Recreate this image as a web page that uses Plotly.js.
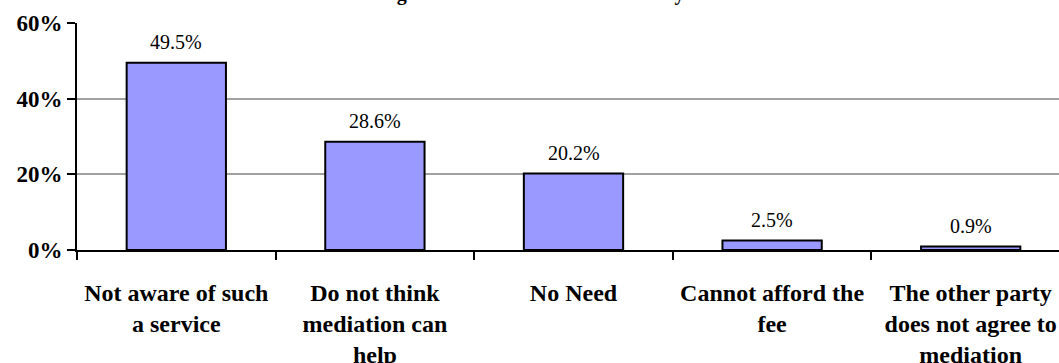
<!DOCTYPE html>
<html>
<head>
<meta charset="utf-8">
<script src="https://cdn.plot.ly/plotly-3.0.1.min.js"></script>
<style>
html, body { margin: 0; padding: 0; overflow: hidden; background: #fff; }
#chart { width: 1070px; height: 363px; }
</style>
</head>
<body>
<div id="chart"></div>
<script>
const categories = [
  "Not aware of such<br>a service",
  "Do not think<br>mediation can<br>help",
  "No Need",
  "Cannot afford the<br>fee",
  "The other party<br>does not agree to<br>mediation"
];
const values = [49.5, 28.6, 20.2, 2.5, 0.9];
const valueLabels = ["49.5%", "28.6%", "20.2%", "2.5%", "0.9%"];
const yTickValues = [0, 20, 40, 60];
const yTickLabels = ["0%", "20%", "40%", "60%"];
const titleText = "Reasons for not using the mediation service offered by the Mediation Centre";

const serif = "Liberation Serif";

const trace = {
  type: "bar",
  x: categories,
  y: values,
  marker: { color: "#9999ff", line: { color: "#000000", width: 2 } },
  hoverinfo: "skip"
};

const annotations = categories.map((c, i) => ({
  x: c, y: values[i], xref: "x", yref: "y",
  text: valueLabels[i], showarrow: false,
  yanchor: "bottom", yshift: 8,
  font: { family: serif, size: 20, color: "#000" }
}));

const layout = {
  width: 1070, height: 363,
  font: { family: serif, color: "#000" },
  margin: { l: 77, r: 0, t: 23, b: 113, pad: 0 },
  paper_bgcolor: "#fff", plot_bgcolor: "#fff",
  showlegend: false,
  bargap: 0.5,
  title: {
    text: "<b>" + titleText + "</b>",
    font: { family: serif, size: 20, color: "#000" },
    x: 0.512, xanchor: "center", xref: "container",
    y: 1.0, yanchor: "bottom", yref: "container"
  },
  xaxis: {
    type: "category",
    showline: true, linecolor: "#000", linewidth: 2,
    ticks: "outside", tickson: "boundaries", ticklen: 8, tickwidth: 2, tickcolor: "#000",
    showgrid: false, zeroline: false,
    ticklabelstandoff: 20,
    tickfont: { family: serif, size: 24, color: "#000", weight: "bold" },
    automargin: false
  },
  yaxis: {
    range: [0, 60],
    tickvals: yTickValues, ticktext: yTickLabels,
    showline: true, linecolor: "#000", linewidth: 2,
    ticks: "outside", ticklen: 8, tickwidth: 2, tickcolor: "#000",
    showgrid: true, gridcolor: "#a0a0a0", gridwidth: 2,
    zeroline: false,
    tickfont: { family: serif, size: 23, color: "#000", weight: "bold" },
    automargin: false
  },
  annotations: annotations
};

Plotly.newPlot("chart", [trace], layout, { displayModeBar: false, staticPlot: true });
</script>
</body>
</html>
